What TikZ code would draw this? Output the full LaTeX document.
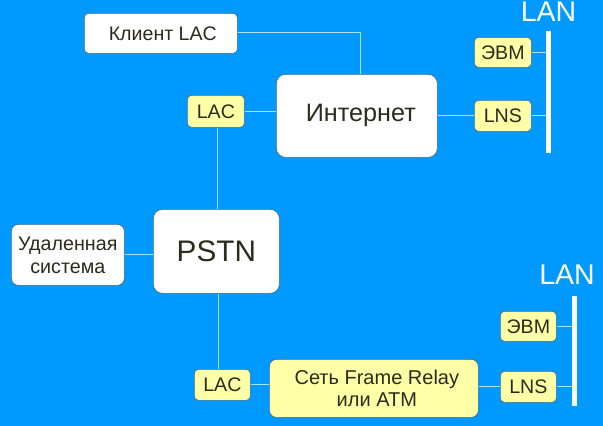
\documentclass[tikz,border=0pt]{standalone}
\usepackage{fontspec}
\setmainfont{Liberation Sans}
\definecolor{bgblue}{HTML}{0099FF}
\definecolor{linkblue}{HTML}{A8E4FF}
\definecolor{boxedge}{HTML}{3A6F8F}
\definecolor{boxyellow}{HTML}{FFFFA8}
\definecolor{inktext}{HTML}{2B2B1C}
\tikzset{
 x=1pt,y=-1pt,
 basebox/.style={draw=boxedge,line width=0.7pt,text=inktext,align=center,inner sep=0pt,anchor=north west},
 whitebox/.style={basebox,fill=white},
 yellowbox/.style={basebox,fill=boxyellow},
 smalltext/.style={font=\fontsize{19.6}{19.6}\selectfont},
 link/.style={draw=linkblue,line width=1pt},
 lanbar/.style={fill=white,draw=none},
 lanlabel/.style={text=white,font=\fontsize{28.5}{28.5}\selectfont,inner sep=0pt,anchor=base}
}
\begin{document}
\begin{tikzpicture}
\useasboundingbox[fill=bgblue] (0,0) rectangle (603,426);
% boxes
\node[whitebox,rounded corners=4pt,minimum width=153pt,minimum height=40pt,smalltext] (client) at (84,13) {\hspace{4pt}\raisebox{-1pt}{Клиент LAC}};
\node[yellowbox,rounded corners=4pt,minimum width=57pt,minimum height=32pt,smalltext] (lacA) at (187,95) {\raisebox{-1pt}{LAC}};
\node[whitebox,rounded corners=9pt,minimum width=161pt,minimum height=83pt,font=\fontsize{25.2}{25.2}\selectfont] (inet) at (276,74) {\hspace{8pt}\raisebox{-2pt}{Интернет}};
\node[yellowbox,rounded corners=4pt,minimum width=57pt,minimum height=30pt,smalltext] (evmA) at (474,37) {\raisebox{-1pt}{ЭВМ}};
\node[yellowbox,rounded corners=4pt,minimum width=57pt,minimum height=31pt,smalltext] (lnsA) at (474,100) {\raisebox{-1pt}{LNS}};
\node[whitebox,rounded corners=9pt,minimum width=126pt,minimum height=84pt,font=\fontsize{29.7}{29.7}\selectfont] (pstn) at (153,209) {\raisebox{1pt}{PSTN}};
\node[whitebox,rounded corners=7pt,minimum width=113pt,minimum height=61pt,font=\fontsize{19.7}{23}\selectfont] (remote) at (11,224) {Удаленная\\система};
\node[yellowbox,rounded corners=4pt,minimum width=56pt,minimum height=31pt,smalltext] (lacB) at (194,369) {LAC};
\node[yellowbox,rounded corners=7pt,minimum width=209pt,minimum height=58pt,font=\fontsize{20}{21.5}\selectfont] (frame) at (269,359) {\hspace{6pt}Сеть Frame Relay\\\hspace{6pt}или ATM};
\node[yellowbox,rounded corners=4pt,minimum width=56pt,minimum height=30pt,smalltext] (evmB) at (500,311) {ЭВМ};
\node[yellowbox,rounded corners=4pt,minimum width=56pt,minimum height=31pt,smalltext] (lnsB) at (500,371) {LNS};
% LAN buses
\node[lanbar,anchor=north west,minimum width=5pt,minimum height=122pt,inner sep=0pt] (busA) at (546,31) {};
\node[lanbar,anchor=north west,minimum width=5pt,minimum height=110pt,inner sep=0pt] (busB) at (572,296) {};
\node[lanlabel] (lanA) at (548.5,21) {LAN};
\node[lanlabel] (lanB) at (567,284) {LAN};
% connectors
\coordinate (elbow) at (360,32);
\path[link] (client.east |- elbow) -- (elbow) -- (elbow |- inet.north);
\path[link] (lacA.east) -- (inet.west |- lacA.east);
\path[link] ([xshift=2pt]lacA.south) -- ([xshift=2pt]lacA.south |- pstn.north);
\path[link] (remote.east) -- (pstn.west |- remote.east);
\path[link] ([xshift=-3.5pt]lacB.north) -- ([xshift=-3.5pt]lacB.north |- pstn.south);
\path[link] (lacB.east) -- (frame.west |- lacB.east);
\path[link] (frame.east |- lnsB.west) -- (lnsB.west);
\path[link] (inet.east |- lnsA.west) -- (lnsA.west);
\path[link] (evmA.east) -- (busA.west |- evmA.east);
\path[link] (lnsA.east) -- (busA.west |- lnsA.east);
\path[link] (evmB.east) -- (busB.west |- evmB.east);
\path[link] (lnsB.east) -- (busB.west |- lnsB.east);
\end{tikzpicture}
\end{document}
